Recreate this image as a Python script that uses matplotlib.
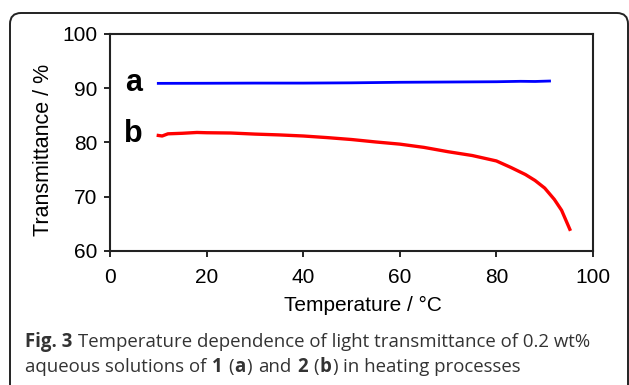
import matplotlib
matplotlib.use('Agg')
import matplotlib.pyplot as plt
from matplotlib.patches import FancyBboxPatch
from matplotlib.transforms import IdentityTransform

# readings taken off the figure
temp_a = [10, 20, 30, 40, 50, 60, 70, 80, 85, 88, 91]
trans_a = [90.9, 90.92, 90.95, 90.95, 91.0, 91.1, 91.15, 91.2, 91.28, 91.25, 91.33]

temp_b = [10, 10.8, 12, 15, 18, 20, 25, 30, 35, 40, 45, 50, 55, 60, 65, 70, 75,
          80, 83, 86, 88, 90, 92, 93.5, 95.2]
trans_b = [81.3, 81.2, 81.6, 81.7, 81.85, 81.8, 81.75, 81.55, 81.4, 81.2, 80.9,
           80.55, 80.1, 79.7, 79.1, 78.3, 77.6, 76.6, 75.4, 74.1, 73.0, 71.6,
           69.5, 67.5, 64.0]

xticks = [0, 20, 40, 60, 80, 100]
yticks = [60, 70, 80, 90, 100]

# caption pieces: (text, bold, space before)
caption1 = [("Fig. 3", True, False),
            ("Temperature dependence of light transmittance of 0.2 wt%", False, True)]
caption2 = [("aqueous solutions of", False, False), ("1", True, True), ("(", False, True),
            ("a", True, False), (")", False, False), ("and", False, True), ("2", True, True),
            ("(", False, True), ("b", True, False), (")", False, False),
            ("in heating processes", False, True)]

plt.rcParams['font.family'] = 'Liberation Sans'

W, H = 629, 385
fig = plt.figure(figsize=(W / 100, H / 100), dpi=100)
renderer = fig.canvas.get_renderer()

# rounded frame around figure + caption
box = FancyBboxPatch((10, -30), 618, H - 13 + 30, boxstyle='round,pad=0,rounding_size=11',
                     transform=IdentityTransform(), fill=False, ec='#222222', lw=1.4)
fig.add_artist(box)

ax = fig.add_axes([110 / W, 1 - 251 / H, (593 - 110) / W, (251 - 34) / H])
ax.plot(temp_a, trans_a, color='#0000ff', lw=2)
ax.plot(temp_b, trans_b, color='#ff0000', lw=2.4)
ax.text(4.8, 91.0, 'a', fontsize=22, fontweight='bold', ha='center', va='center')
ax.text(4.8, 81.5, 'b', fontsize=22, fontweight='bold', ha='center', va='center')

ax.set_xlim(0, 100)
ax.set_ylim(60, 100)
ax.set_xticks(xticks)
ax.set_yticks(yticks)
ax.tick_params(labelsize=15, length=4, width=1.2)
ax.tick_params(axis='x', pad=8)
ax.tick_params(axis='y', pad=5)
for s in ax.spines.values():
    s.set_linewidth(1.5)
    s.set_color('#222222')
ax.set_xlabel('Temperature / °C', fontsize=15)
ax.set_ylabel('Transmittance / %', fontsize=15.5)
ax.xaxis.set_label_coords(0.524, -0.205)
ax.yaxis.set_label_coords(-0.115, 0.465)

# caption, drawn piece by piece so bold bits sit inline
cap_kw = dict(family='Open Sans', fontsize=13.4, color='#333333', va='baseline',
              transform=IdentityTransform())


def text_width(s, bold):
    t = fig.text(0, 0, s, fontweight='bold' if bold else 'normal', **cap_kw)
    w = t.get_window_extent(renderer).width
    t.remove()
    return w


space_w = text_width("x x", False) - text_width("xx", False)


def put_line(x, y, pieces):
    for txt, bold, sp in pieces:
        if sp:
            x += space_w
        fig.text(x, y, txt, fontweight='bold' if bold else 'normal', **cap_kw)
        x += text_width(txt, bold) + 0.8


put_line(25, H - 347, caption1)
put_line(25, H - 372, caption2)

fig.savefig('out.png', dpi=100)
